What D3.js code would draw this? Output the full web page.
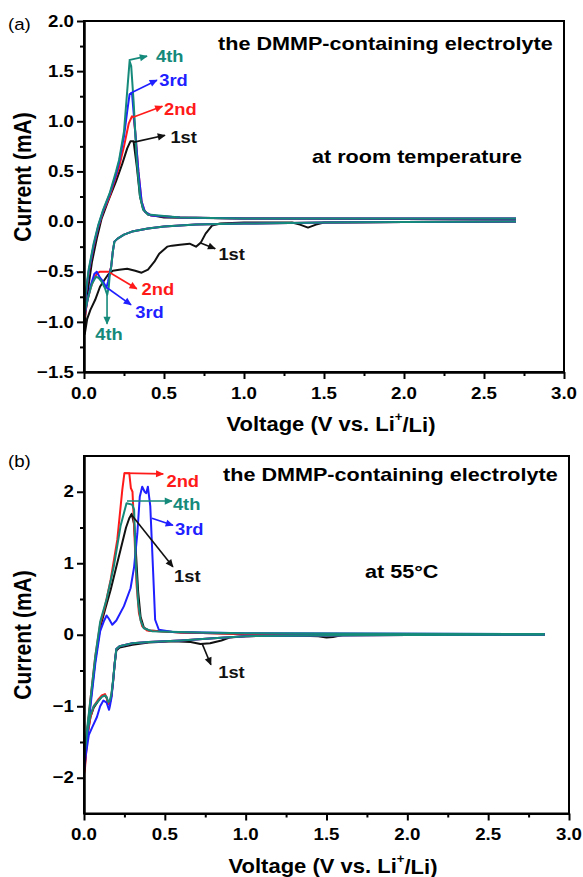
<!DOCTYPE html>
<html><head><meta charset="utf-8">
<script src="https://cdn.jsdelivr.net/npm/d3@7"></script>
<style>body{margin:0;background:#fff}svg{display:block}text{font-family:"Liberation Sans",Arial,sans-serif}</style>
</head><body><svg id="c" width="583" height="877"></svg>
<script>
// ---------- data ----------
const cycleNames = ["1st","2nd","3rd","4th"];
const cycleColors = ["#111111","#ff1a1a","#1f1fff","#158a7b"];
const xMajor = [0,0.5,1,1.5,2,2.5,3];
const xMinor = [0.25,0.75,1.25,1.75,2.25,2.75];
const yMajorA = [-1.5,-1,-0.5,0,0.5,1,1.5,2];
const yMinorA = [-1.25,-0.75,-0.25,0.25,0.75,1.25,1.75];
const yMajorB = [-2,-1,0,1,2];
const yMinorB = [-1.5,-0.5,0.5,1.5];

// (a) room temperature : [V, mA]
const rt1 = [[2.7,0.0],[2.0,-0.005],[1.5,-0.01],[1.45,-0.03],[1.4,-0.06],[1.35,-0.03],[1.3,-0.01],[1.0,-0.01],[0.85,-0.02],[0.8,-0.04],[0.76,-0.12],[0.73,-0.21],[0.70,-0.25],[0.66,-0.22],[0.6,-0.23],[0.55,-0.24],[0.52,-0.25],[0.47,-0.32],[0.44,-0.4],[0.40,-0.48],[0.36,-0.51],[0.32,-0.49],[0.27,-0.47],[0.22,-0.48],[0.18,-0.49],[0.15,-0.53],[0.12,-0.6],[0.1,-0.65],[0.07,-0.78],[0.04,-0.88],[0.02,-0.97],[0.005,-1.12],
 [0.0,-1.13],[0.01,-0.9],[0.03,-0.62],[0.05,-0.4],[0.08,-0.17],[0.11,0.03],[0.15,0.2],[0.2,0.4],[0.24,0.58],[0.27,0.73],[0.29,0.8],[0.31,0.8],[0.33,0.55],[0.35,0.25],[0.37,0.12],[0.4,0.07],[0.5,0.04],[1.0,0.03],[2.0,0.025],[2.7,0.025]];
const rt2 = [[2.7,0.0],[2.0,-0.005],[1.5,-0.01],[1.0,-0.02],[0.7,-0.03],[0.5,-0.05],[0.4,-0.07],[0.3,-0.1],[0.25,-0.13],[0.21,-0.17],[0.19,-0.2],[0.18,-0.3],[0.17,-0.45],[0.16,-0.5],[0.14,-0.5],[0.1,-0.5],[0.08,-0.52],[0.06,-0.58],[0.04,-0.67],[0.02,-0.8],[0.005,-0.95],
 [0.0,-0.95],[0.01,-0.75],[0.03,-0.5],[0.06,-0.25],[0.09,-0.05],[0.12,0.1],[0.16,0.25],[0.2,0.45],[0.22,0.55],[0.25,0.75],[0.28,0.98],[0.3,1.05],[0.31,1.04],[0.32,0.9],[0.34,0.5],[0.36,0.2],[0.38,0.1],[0.42,0.06],[0.6,0.04],[1.0,0.03],[2.7,0.03]];
const rt3 = [[2.7,0.0],[2.0,-0.005],[1.5,-0.01],[1.0,-0.02],[0.7,-0.03],[0.5,-0.05],[0.4,-0.07],[0.3,-0.1],[0.25,-0.13],[0.21,-0.17],[0.19,-0.2],[0.18,-0.3],[0.17,-0.45],[0.16,-0.52],[0.15,-0.6],[0.14,-0.66],[0.12,-0.6],[0.1,-0.56],[0.08,-0.5],[0.065,-0.52],[0.045,-0.62],[0.025,-0.76],[0.005,-0.92],
 [0.0,-0.93],[0.01,-0.74],[0.03,-0.49],[0.06,-0.24],[0.09,-0.04],[0.12,0.11],[0.16,0.27],[0.2,0.47],[0.22,0.6],[0.25,0.85],[0.27,1.1],[0.285,1.27],[0.3,1.28],[0.32,0.9],[0.34,0.5],[0.36,0.2],[0.38,0.1],[0.42,0.06],[0.6,0.04],[1.0,0.03],[2.7,0.03]];
const rt4 = [[2.7,0.0],[2.0,-0.005],[1.5,-0.01],[1.0,-0.02],[0.7,-0.03],[0.5,-0.05],[0.4,-0.07],[0.3,-0.1],[0.25,-0.13],[0.21,-0.17],[0.19,-0.2],[0.18,-0.3],[0.17,-0.45],[0.16,-0.55],[0.155,-0.65],[0.145,-0.73],[0.13,-0.66],[0.11,-0.6],[0.09,-0.56],[0.075,-0.55],[0.05,-0.62],[0.025,-0.76],[0.005,-0.9],
 [0.0,-0.91],[0.01,-0.72],[0.03,-0.47],[0.06,-0.22],[0.09,-0.03],[0.12,0.12],[0.16,0.28],[0.2,0.5],[0.22,0.62],[0.25,0.9],[0.27,1.3],[0.285,1.6],[0.295,1.55],[0.31,1.2],[0.33,0.6],[0.35,0.25],[0.37,0.12],[0.4,0.07],[0.6,0.04],[1.0,0.03],[2.7,0.03]];

// (b) 55 °C : [V, mA]
const ht1 = [[2.85,0],[2.0,-0.005],[1.6,-0.005],[1.54,-0.03],[1.5,-0.04],[1.45,-0.02],[1.3,-0.01],[1.0,-0.02],[0.9,-0.04],[0.85,-0.08],[0.78,-0.12],[0.72,-0.13],[0.66,-0.1],[0.55,-0.09],[0.4,-0.11],[0.3,-0.14],[0.22,-0.18],[0.2,-0.22],[0.19,-0.4],[0.18,-0.65],[0.17,-0.85],[0.16,-0.95],[0.15,-0.97],[0.14,-0.88],[0.125,-0.84],[0.11,-0.86],[0.09,-0.92],[0.06,-1.02],[0.04,-1.15],[0.02,-1.4],[0.005,-1.85],
 [0,-1.85],[0.02,-1.35],[0.04,-0.95],[0.07,-0.35],[0.1,0.1],[0.13,0.35],[0.165,0.63],[0.2,0.95],[0.226,1.19],[0.26,1.5],[0.28,1.63],[0.295,1.69],[0.31,1.55],[0.32,1.2],[0.335,0.6],[0.35,0.25],[0.37,0.1],[0.4,0.06],[0.6,0.03],[1.0,0.01],[2.85,0.01]];
const ht2 = [[2.85,0],[2.0,-0.005],[1.5,-0.01],[1.0,-0.02],[0.8,-0.05],[0.6,-0.08],[0.4,-0.1],[0.3,-0.12],[0.22,-0.16],[0.2,-0.2],[0.19,-0.4],[0.18,-0.65],[0.17,-0.85],[0.16,-0.95],[0.15,-0.97],[0.14,-0.88],[0.13,-0.83],[0.11,-0.85],[0.09,-0.9],[0.06,-1.0],[0.04,-1.15],[0.02,-1.45],[0.005,-1.9],
 [0,-1.95],[0.02,-1.35],[0.04,-0.9],[0.07,-0.3],[0.1,0.15],[0.13,0.4],[0.165,0.77],[0.206,1.33],[0.237,2.03],[0.25,2.26],[0.28,2.26],[0.29,2.05],[0.3,2.0],[0.31,1.5],[0.325,0.7],[0.34,0.3],[0.36,0.12],[0.39,0.06],[0.6,0.03],[1.0,0.01],[2.85,0.01]];
const ht3 = [[2.85,0],[2.0,-0.005],[1.5,-0.01],[1.0,-0.02],[0.8,-0.05],[0.6,-0.08],[0.4,-0.1],[0.3,-0.12],[0.22,-0.16],[0.2,-0.2],[0.19,-0.4],[0.18,-0.65],[0.17,-0.88],[0.16,-1.0],[0.155,-1.05],[0.14,-0.95],[0.12,-0.92],[0.1,-1.0],[0.08,-1.15],[0.05,-1.3],[0.03,-1.4],[0.01,-1.7],[0.003,-1.85],
 [0,-1.9],[0.02,-1.45],[0.04,-1.0],[0.07,-0.4],[0.1,0.05],[0.125,0.2],[0.14,0.27],[0.155,0.22],[0.175,0.14],[0.2,0.2],[0.247,0.4],[0.288,0.65],[0.31,0.95],[0.33,1.42],[0.345,1.93],[0.36,2.07],[0.375,2.0],[0.385,1.98],[0.395,2.07],[0.41,1.8],[0.428,0.86],[0.44,0.21],[0.463,0.07],[0.55,0.04],[1.0,0.02],[2.85,0.01]];
const ht4 = [[2.85,0],[2.0,-0.005],[1.5,-0.01],[1.0,-0.02],[0.8,-0.05],[0.6,-0.08],[0.4,-0.1],[0.3,-0.12],[0.22,-0.16],[0.2,-0.2],[0.19,-0.4],[0.18,-0.63],[0.17,-0.82],[0.16,-0.92],[0.15,-0.94],[0.14,-0.87],[0.13,-0.85],[0.11,-0.87],[0.09,-0.92],[0.06,-1.0],[0.04,-1.12],[0.02,-1.35],[0.005,-1.65],
 [0,-1.7],[0.02,-1.3],[0.04,-0.9],[0.07,-0.3],[0.1,0.18],[0.14,0.5],[0.185,0.96],[0.226,1.52],[0.263,1.84],[0.298,1.82],[0.31,1.75],[0.32,1.0],[0.335,0.45],[0.35,0.2],[0.37,0.09],[0.42,0.05],[0.7,0.03],[1.0,0.02],[2.85,0.01]];

// annotations (data units): [cycle index, arrow start, arrow end, label anchor]
const annA = [
 [3,[0.28,1.61],[0.394,1.65],[0.45,1.65]],
 [2,[0.29,1.28],[0.456,1.41],[0.47,1.41]],
 [1,[0.306,1.04],[0.49,1.15],[0.5,1.12]],
 [0,[0.306,0.79],[0.506,0.86],[0.54,0.84]],
 [1,[0.163,-0.51],[0.33,-0.67],[0.36,-0.67]],
 [2,[0.144,-0.66],[0.294,-0.83],[0.32,-0.9]],
 [3,[0.144,-0.73],[0.144,-1.02],[0.07,-1.12]],
 [0,[0.725,-0.21],[0.82,-0.27],[0.84,-0.33]]
];
const annB = [
 [1,[0.247,2.26],[0.49,2.25],[0.51,2.15]],
 [3,[0.266,1.87],[0.544,1.87],[0.55,1.83]],
 [2,[0.42,1.63],[0.55,1.53],[0.563,1.48]],
 [0,[0.29,1.69],[0.55,0.95],[0.557,0.82]],
 [0,[0.73,-0.12],[0.785,-0.42],[0.83,-0.52]]
];

// ---------- drawing ----------
const svg = d3.select("#c");
const defs = svg.append("defs");
cycleColors.forEach((c,i)=>{
  defs.append("marker").attr("id","ar"+i).attr("viewBox","0 0 10 10")
    .attr("refX",9).attr("refY",5).attr("markerUnits","userSpaceOnUse")
    .attr("markerWidth",10).attr("markerHeight",8).attr("orient","auto")
    .append("path").attr("d","M0,0.5 L10,5 L0,9.5 Z").attr("fill",c);
});

function txt(g,x,y,s,o={}){
  const t=g.append("text")
    .attr("transform",`translate(${x},${y}) scale(${o.sx||1.15},1)${o.rot?" rotate(-90)":""}`)
    .attr("text-anchor",o.anchor||"start").attr("dominant-baseline","central")
    .attr("font-size",o.size||16).attr("font-weight",o.weight||"bold")
    .attr("fill",o.fill||"#000");
  t.text(s);
  return t;
}

function panel(cfg){
  const g = svg.append("g");
  const x = d3.scaleLinear().domain([0,3]).range([cfg.L,cfg.R]);
  const y = d3.scaleLinear().domain(cfg.yDom).range([cfg.B,cfg.T]);
  const line = d3.line().x(d=>x(d[0])).y(d=>y(d[1]));
  cfg.series.forEach((s,i)=>{
    g.append("path").datum(s).attr("d",line).attr("fill","none")
      .attr("stroke",cycleColors[i]).attr("stroke-width",2).attr("stroke-linejoin","round");
  });
  g.append("rect").attr("x",cfg.L).attr("y",cfg.T).attr("width",cfg.R-cfg.L).attr("height",cfg.B-cfg.T)
    .attr("fill","none").attr("stroke","#000").attr("stroke-width",2);
  const ax = g.append("g").attr("transform",`translate(0,${cfg.B})`);
  ax.call(d3.axisBottom(x).tickValues(xMajor).tickSize(7).tickSizeOuter(0).tickFormat(""));
  const axm = g.append("g").attr("transform",`translate(0,${cfg.B})`);
  axm.call(d3.axisBottom(x).tickValues(xMinor).tickSize(4).tickSizeOuter(0).tickFormat(""));
  const ay = g.append("g").attr("transform",`translate(${cfg.L},0)`);
  ay.call(d3.axisLeft(y).tickValues(cfg.yMajor).tickSize(7).tickSizeOuter(0).tickFormat(""));
  const aym = g.append("g").attr("transform",`translate(${cfg.L},0)`);
  aym.call(d3.axisLeft(y).tickValues(cfg.yMinor).tickSize(4).tickSizeOuter(0).tickFormat(""));
  [ax,axm,ay,aym].forEach(a=>{a.select(".domain").attr("stroke-width",2);a.selectAll("line").attr("stroke-width",2);});
  xMajor.forEach(v=>txt(g,x(v),cfg.B+21,d3.format(".1f")(v),{anchor:"middle",size:17,sx:1.1}));
  cfg.yMajor.forEach(v=>txt(g,cfg.L-10,y(v),cfg.yFmt(v),{anchor:"end",size:17,sx:1.1}));
  txt(g,23,cfg.yLabelY,"Current (mA)",{anchor:"middle",size:21,rot:true,sx:1.1});
  const xt = txt(g,cfg.xLabelX,cfg.xLabelY,"Voltage (V vs. Li",{anchor:"middle",size:20,sx:1.1});
  xt.append("tspan").attr("font-size",12).attr("dy",-7).text("+");
  xt.append("tspan").attr("dy",7).text("/Li)");
  cfg.ann.forEach(a=>{
    const [ci,p0,p1,pt]=a;
    g.append("line").attr("x1",x(p0[0])).attr("y1",y(p0[1])).attr("x2",x(p1[0])).attr("y2",y(p1[1]))
      .attr("stroke",cycleColors[ci]).attr("stroke-width",1.6).attr("marker-end",`url(#ar${ci})`);
    txt(g,x(pt[0]),y(pt[1]),cycleNames[ci],{size:17,fill:cycleColors[ci],sx:1.08});
  });
  txt(g,8,cfg.tagY,cfg.tag,{size:17,weight:"normal",sx:1.1});
  return {g,x,y};
}

const A = panel({L:84,R:564,T:21,B:372,yDom:[-1.5,2],yMajor:yMajorA,yMinor:yMinorA,
  yFmt:d3.format(".1f"),series:[rt1,rt2,rt3,rt4],ann:annA,tag:"(a)",tagY:24,
  yLabelY:177,xLabelX:331,xLabelY:424});
txt(A.g,218,44,"the DMMP-containing electrolyte",{size:18,sx:1.2});
txt(A.g,312,157,"at room temperature",{size:18,sx:1.2});

const B = panel({L:84,R:569,T:456,B:813.5,yDom:[-2.5,2.5],yMajor:yMajorB,yMinor:yMinorB,
  yFmt:d3.format("d"),series:[ht1,ht2,ht3,ht4],ann:annB,tag:"(b)",tagY:461,
  yLabelY:635,xLabelX:333,xLabelY:866});
txt(B.g,223,475,"the DMMP-containing electrolyte",{size:18,sx:1.2});
txt(B.g,365,572,"at 55°C",{size:18,sx:1.2});
</script></body></html>
